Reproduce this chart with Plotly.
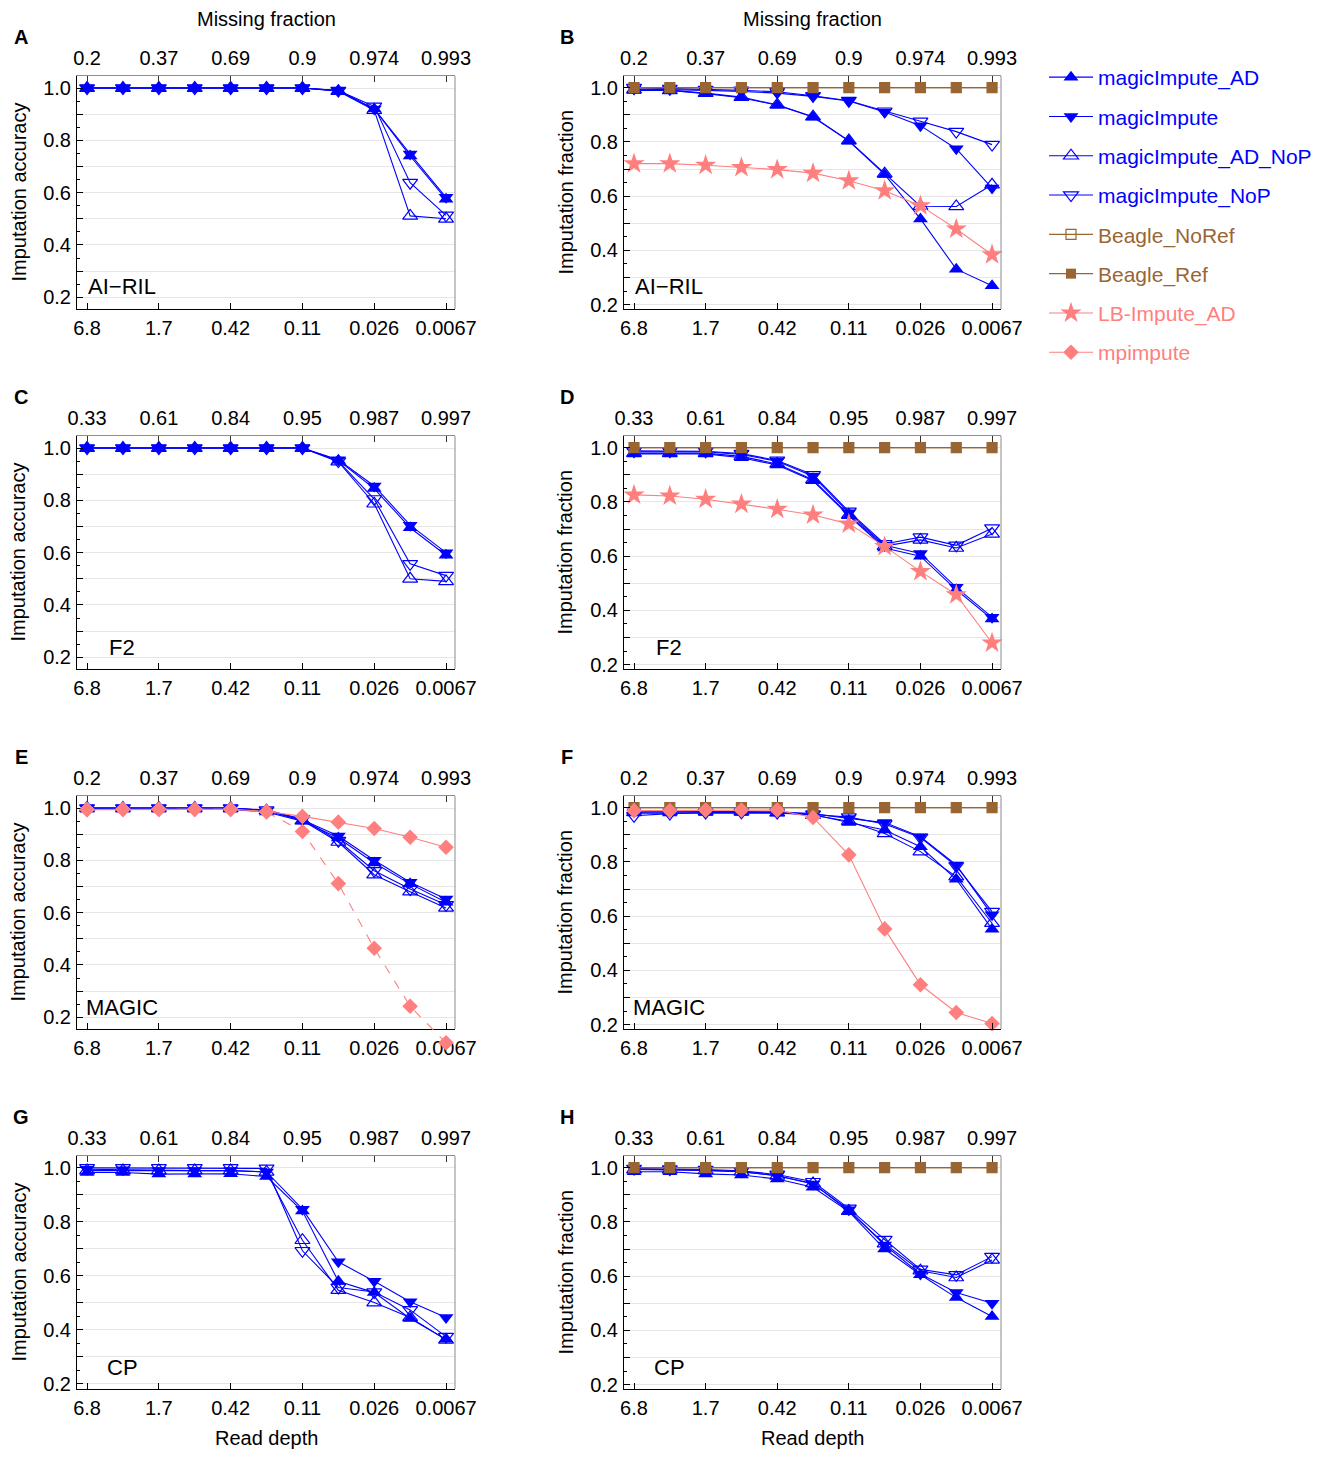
import math
import plotly.graph_objects as go

REF_W, REF_H = 1341, 1459
OFF = 8  # the page body margin that shifts the plot in the browser
W, H = REF_W - 2 * OFF, REF_H - 2 * OFF
FONT = "Liberation Sans, Arial, sans-serif"

# ---------------- data ----------------
read_depth = [6.8, 3.4, 1.7, 0.85, 0.425, 0.2125, 0.10625, 0.053125,
              0.0265625, 0.01328125, 0.006640625]
depth_tick_vals = [6.8, 1.7, 0.425, 0.10625, 0.0265625, 0.006640625]
depth_tick_text = ["6.8", "1.7", "0.42", "0.11", "0.026", "0.0067"]
missing_ril_magic = ["0.2", "0.37", "0.69", "0.9", "0.974", "0.993"]
missing_f2_cp = ["0.33", "0.61", "0.84", "0.95", "0.987", "0.997"]

ones = [1.0, 1.0, 1.0, 1.0, 1.0, 1.0, 1.0, 1.0, 1.0, 1.0, 1.0]

panel_A = {  # AI-RIL accuracy
    "magicImpute_AD": [1, 1, 1, 1, 1, 1, 1, 0.99, 0.92, 0.74, 0.575],
    "magicImpute": [1, 1, 1, 1, 1, 1, 1, 0.99, 0.92, 0.748, 0.582],
    "magicImpute_AD_NoP": [1, 1, 1, 1, 1, 1, 1, 0.988, 0.915, 0.511, 0.50],
    "magicImpute_NoP": [1, 1, 1, 1, 1, 1, 1, 0.99, 0.93, 0.638, 0.513],
}
panel_B = {  # AI-RIL fraction
    "magicImpute_AD": [0.99, 0.99, 0.978, 0.963, 0.935, 0.892, 0.803, 0.68, 0.516, 0.331, 0.27],
    "magicImpute": [0.995, 0.993, 0.99, 0.986, 0.98, 0.968, 0.951, 0.91, 0.86, 0.775, 0.63],
    "magicImpute_AD_NoP": [0.993, 0.99, 0.98, 0.965, 0.937, 0.893, 0.805, 0.683, 0.563, 0.562, 0.642],
    "magicImpute_NoP": [1.0, 0.997, 0.993, 0.99, 0.985, 0.97, 0.952, 0.913, 0.876, 0.838, 0.79],
    "Beagle_NoRef": ones,
    "Beagle_Ref": ones,
    "LB-Impute_AD": [0.72, 0.72, 0.714, 0.706, 0.698, 0.685, 0.657, 0.62, 0.565, 0.479, 0.384],
}
panel_C = {  # F2 accuracy
    "magicImpute_AD": [1, 1, 1, 1, 1, 1, 1, 0.953, 0.845, 0.695, 0.59],
    "magicImpute": [1, 1, 1, 1, 1, 1, 1, 0.955, 0.855, 0.705, 0.60],
    "magicImpute_AD_NoP": [1, 1, 1, 1, 1, 1, 1, 0.948, 0.787, 0.50, 0.49],
    "magicImpute_NoP": [1, 1, 1, 1, 1, 1, 1, 0.95, 0.805, 0.557, 0.512],
}
panel_D = {  # F2 fraction
    "magicImpute_AD": [0.977, 0.977, 0.977, 0.963, 0.936, 0.878, 0.749, 0.63, 0.60, 0.476, 0.368],
    "magicImpute": [0.985, 0.985, 0.985, 0.975, 0.95, 0.895, 0.76, 0.64, 0.61, 0.485, 0.375],
    "magicImpute_AD_NoP": [0.98, 0.98, 0.98, 0.968, 0.94, 0.882, 0.752, 0.637, 0.66, 0.63, 0.682],
    "magicImpute_NoP": [0.988, 0.988, 0.987, 0.978, 0.953, 0.9, 0.765, 0.645, 0.67, 0.64, 0.703],
    "Beagle_NoRef": ones,
    "Beagle_Ref": ones,
    "LB-Impute_AD": [0.826, 0.822, 0.81, 0.792, 0.773, 0.752, 0.719, 0.636, 0.544, 0.458, 0.28],
}
panel_E = {  # MAGIC accuracy
    "magicImpute_AD": [0.995, 0.995, 0.995, 0.995, 0.995, 0.985, 0.95, 0.885, 0.79, 0.71, 0.64],
    "magicImpute": [1, 1, 1, 1, 1, 0.99, 0.955, 0.893, 0.80, 0.716, 0.652],
    "magicImpute_AD_NoP": [1, 1, 1, 1, 1, 0.99, 0.952, 0.87, 0.745, 0.68, 0.618],
    "magicImpute_NoP": [1, 1, 1, 1, 1, 0.992, 0.958, 0.875, 0.76, 0.69, 0.63],
    "mpimpute": [0.994, 0.995, 0.995, 0.995, 0.995, 0.987, 0.968, 0.946, 0.922, 0.888, 0.85],
    "mpimpute_dashed": [0.994, 0.995, 0.995, 0.995, 0.995, 0.985, 0.91, 0.711, 0.464, 0.242, 0.102],
}
panel_F = {  # MAGIC fraction
    "magicImpute_AD": [0.98, 0.98, 0.982, 0.982, 0.98, 0.975, 0.945, 0.918, 0.856, 0.736, 0.552],
    "magicImpute": [0.985, 0.985, 0.985, 0.985, 0.985, 0.978, 0.96, 0.945, 0.893, 0.789, 0.605],
    "magicImpute_AD_NoP": [0.983, 0.985, 0.985, 0.985, 0.982, 0.972, 0.95, 0.905, 0.838, 0.746, 0.574],
    "magicImpute_NoP": [0.97, 0.978, 0.982, 0.983, 0.982, 0.975, 0.965, 0.94, 0.89, 0.785, 0.617],
    "Beagle_NoRef": ones,
    "Beagle_Ref": ones,
    "mpimpute": [0.989, 0.989, 0.991, 0.991, 0.991, 0.964, 0.826, 0.553, 0.347, 0.245, 0.204],
}
panel_G = {  # CP accuracy
    "magicImpute_AD": [0.983, 0.983, 0.977, 0.977, 0.978, 0.968, 0.84, 0.58, 0.538, 0.442, 0.365],
    "magicImpute": [0.995, 0.993, 0.99, 0.99, 0.99, 0.985, 0.847, 0.652, 0.58, 0.504, 0.446],
    "magicImpute_AD_NoP": [0.99, 0.99, 0.99, 0.99, 0.99, 0.985, 0.732, 0.547, 0.501, 0.446, 0.363],
    "magicImpute_NoP": [1.0, 1.0, 1.0, 1.0, 1.0, 0.998, 0.693, 0.557, 0.54, 0.474, 0.375],
}
panel_H = {  # CP fraction
    "magicImpute_AD": [0.985, 0.985, 0.977, 0.973, 0.958, 0.928, 0.838, 0.70, 0.605, 0.521, 0.451],
    "magicImpute": [0.995, 0.993, 0.99, 0.985, 0.97, 0.94, 0.845, 0.715, 0.608, 0.54, 0.50],
    "magicImpute_AD_NoP": [0.993, 0.992, 0.99, 0.985, 0.97, 0.942, 0.84, 0.72, 0.62, 0.595, 0.66],
    "magicImpute_NoP": [0.997, 0.995, 0.993, 0.988, 0.975, 0.948, 0.85, 0.735, 0.625, 0.605, 0.672],
    "Beagle_NoRef": ones,
    "Beagle_Ref": ones,
}

# ---------------- styles ----------------
BLUE = "#0000ff"
BROWN = "#996633"
SALMON = "#ff7f7f"
styles = {
    "magicImpute_AD": dict(color=BLUE, symbol="triangle-up", size=13, dash="solid", rank=1),
    "magicImpute": dict(color=BLUE, symbol="triangle-down", size=13, dash="solid", rank=2),
    "magicImpute_AD_NoP": dict(color=BLUE, symbol="triangle-up-open", size=13, dash="solid", rank=3),
    "magicImpute_NoP": dict(color=BLUE, symbol="triangle-down-open", size=13, dash="solid", rank=4),
    "Beagle_NoRef": dict(color=BROWN, symbol="square-open", size=10, dash="solid", rank=5),
    "Beagle_Ref": dict(color=BROWN, symbol="square", size=10, dash="solid", rank=6),
    "LB-Impute_AD": dict(color=SALMON, symbol="star", size=16, dash="solid", rank=7),
    "mpimpute": dict(color=SALMON, symbol="diamond", size=12, dash="solid", rank=8),
    "mpimpute_dashed": dict(color=SALMON, symbol="diamond", size=12, dash="dash", rank=8),
}

panels = [
    ("A", panel_A, 0, 0, "AI\u2212RIL", "Imputation accuracy", missing_ril_magic, (0.155, 1.046)),
    ("B", panel_B, 0, 1, "AI\u2212RIL", "Imputation fraction", missing_ril_magic, (0.184, 1.043)),
    ("C", panel_C, 1, 0, "F2", "Imputation accuracy", missing_f2_cp, (0.155, 1.046)),
    ("D", panel_D, 1, 1, "F2", "Imputation fraction", missing_f2_cp, (0.184, 1.043)),
    ("E", panel_E, 2, 0, "MAGIC", "Imputation accuracy", missing_ril_magic, (0.155, 1.046)),
    ("F", panel_F, 2, 1, "MAGIC", "Imputation fraction", missing_ril_magic, (0.184, 1.043)),
    ("G", panel_G, 3, 0, "CP", "Imputation accuracy", missing_f2_cp, (0.181, 1.044)),
    ("H", panel_H, 3, 1, "CP", "Imputation fraction", missing_f2_cp, (0.184, 1.043)),
]

# ---------------- layout geometry (reference pixels) ----------------
col_x = [(77, 455), (624, 1001)]
row_top = [76, 436, 796, 1156]
plot_h = 233
EXT = 30  # extra pixels below a frame for the unclipped dashed series
step_log = math.log10(2)
x_range = [math.log10(read_depth[0]) + 0.28 * step_log,
           math.log10(read_depth[-1]) - 0.25 * step_log]


def px(x):
    return (x - OFF) / W


def py(y):
    return 1 - (y - OFF) / H


fig = go.Figure()
layout = dict(
    width=W, height=H, autosize=False,
    margin=dict(l=0, r=0, t=0, b=0, pad=0, autoexpand=False),
    paper_bgcolor="white", plot_bgcolor="rgba(0,0,0,0)",
    font=dict(family=FONT, size=20, color="black"),
    showlegend=True,
    legend=dict(x=px(1044), y=py(57), xanchor="left", yanchor="top",
                font=dict(family=FONT, size=21),
                traceorder="grouped", tracegroupgap=9,
                bgcolor="rgba(0,0,0,0)", borderwidth=0,
                itemwidth=44),
)
annotations = []
shapes = []
shown = set()

ytick_vals = [0.2, 0.3, 0.4, 0.5, 0.6, 0.7, 0.8, 0.9, 1.0]
ytick_text = ["0.2", "", "0.4", "", "0.6", "", "0.8", "", "1.0"]
extra_axis = 17

for k, (letter, data, r, c, pop, ytitle, top_labels, yr) in enumerate(panels):
    n = k + 1
    ntop = k + 9
    x0, x1 = col_x[c]
    t = row_top[r]
    b = t + plot_h
    xdom = [px(x0), px(x1)]
    ydom = [py(b), py(t)]

    layout[f"xaxis{n}"] = dict(
        domain=xdom, anchor=f"y{n}", type="log", range=x_range,
        tickmode="array", tickvals=depth_tick_vals, ticktext=depth_tick_text,
        ticks="inside", ticklen=6, tickcolor="black", tickwidth=1,
        showline=True, linecolor="black", linewidth=1, mirror=False,
        showgrid=False, zeroline=False, ticklabelstandoff=1,
        tickfont=dict(size=20, family=FONT, color="black"),
    )
    layout[f"xaxis{ntop}"] = dict(
        domain=xdom, anchor=f"y{n}", overlaying=f"x{n}", side="top",
        type="log", range=x_range,
        tickmode="array", tickvals=depth_tick_vals, ticktext=top_labels,
        ticks="inside", ticklen=6, tickcolor="#333333", tickwidth=1,
        showline=True, linecolor="#8c8c8c", linewidth=1,
        showgrid=False, zeroline=False, ticklabelstandoff=2,
        tickfont=dict(size=20, family=FONT, color="black"),
    )
    layout[f"yaxis{n}"] = dict(
        domain=ydom, anchor=f"x{n}", range=list(yr),
        tickmode="array", tickvals=ytick_vals, ticktext=ytick_text,
        ticks="inside", ticklen=6, tickcolor="black", tickwidth=1,
        minor=dict(tickmode="linear", tick0=0, dtick=0.05, ticks="inside",
                   ticklen=3, tickcolor="black", showgrid=False),
        showline=True, linecolor="black", linewidth=1,
        showgrid=True, gridcolor="#e6e6e6", gridwidth=1.2, zeroline=False,
        ticklabelstandoff=1,
        tickfont=dict(size=20, family=FONT, color="black"),
    )
    # right frame edge
    shapes.append(dict(type="line", xref="paper", yref="paper",
                       x0=px(x1), x1=px(x1), y0=py(b), y1=py(t),
                       line=dict(color="#8c8c8c", width=1)))

    # empty trace so the top axis is always drawn
    fig.add_trace(go.Scatter(x=[], y=[], xaxis=f"x{ntop}", yaxis=f"y{n}",
                             showlegend=False, hoverinfo="skip"))

    for name, vals in data.items():
        st = styles[name]
        group = "mpimpute" if name.startswith("mpimpute") else name
        show = (name == group) and (group not in shown)
        if show:
            shown.add(group)
        filled = not st["symbol"].endswith("open")
        yaxis_ref = f"y{n}"
        if name == "mpimpute_dashed":
            # same scale as the panel, extended below the frame (unclipped, like the original)
            ppu = plot_h / (yr[1] - yr[0])
            layout[f"yaxis{extra_axis}"] = dict(
                domain=[py(b + EXT), py(t)], anchor=f"x{n}",
                range=[yr[0] - EXT / ppu, yr[1]], visible=False,
            )
            yaxis_ref = f"y{extra_axis}"
            extra_axis += 1
        fig.add_trace(go.Scatter(
            x=read_depth, y=vals, mode="lines+markers",
            xaxis=f"x{n}", yaxis=yaxis_ref,
            name=f"<span style='color:{st['color']}'>{group}</span>",
            legendgroup=group, showlegend=show, legendrank=st["rank"],
            line=dict(color=st["color"], width=1.1, dash=st["dash"]),
            marker=dict(symbol=st["symbol"], size=st["size"], color=st["color"],
                        line=dict(color=st["color"], width=0 if filled else 1.2)),
            cliponaxis=False,
        ))

    # annotations
    lx = 21 if c == 0 else 567
    annotations.append(dict(text=f"<b>{letter}</b>", x=px(lx), y=py(t - 39),
                            xref="paper", yref="paper", showarrow=False,
                            xanchor="center", yanchor="middle",
                            font=dict(size=20, family=FONT, color="black")))
    annotations.append(dict(text=pop, x=px(x0 + 45), y=py(b - 22),
                            xref="paper", yref="paper", showarrow=False,
                            xanchor="center", yanchor="middle",
                            font=dict(size=22, family=FONT, color="black")))
    tx = 18 if c == 0 else 565
    annotations.append(dict(text=ytitle, x=px(tx), y=py((t + b) / 2),
                            xref="paper", yref="paper", showarrow=False,
                            textangle=-90, xanchor="center", yanchor="middle",
                            font=dict(size=20, family=FONT, color="black")))
    if r == 0:
        annotations.append(dict(text="Missing fraction", x=px((x0 + x1) / 2), y=py(19),
                                xref="paper", yref="paper", showarrow=False,
                                xanchor="center", yanchor="middle",
                                font=dict(size=20, family=FONT, color="black")))
    if r == 3:
        annotations.append(dict(text="Read depth", x=px((x0 + x1) / 2), y=py(1438),
                                xref="paper", yref="paper", showarrow=False,
                                xanchor="center", yanchor="middle",
                                font=dict(size=20, family=FONT, color="black")))

layout["annotations"] = annotations
layout["shapes"] = shapes
fig.update_layout(**layout)
fig.write_html("out.html")
